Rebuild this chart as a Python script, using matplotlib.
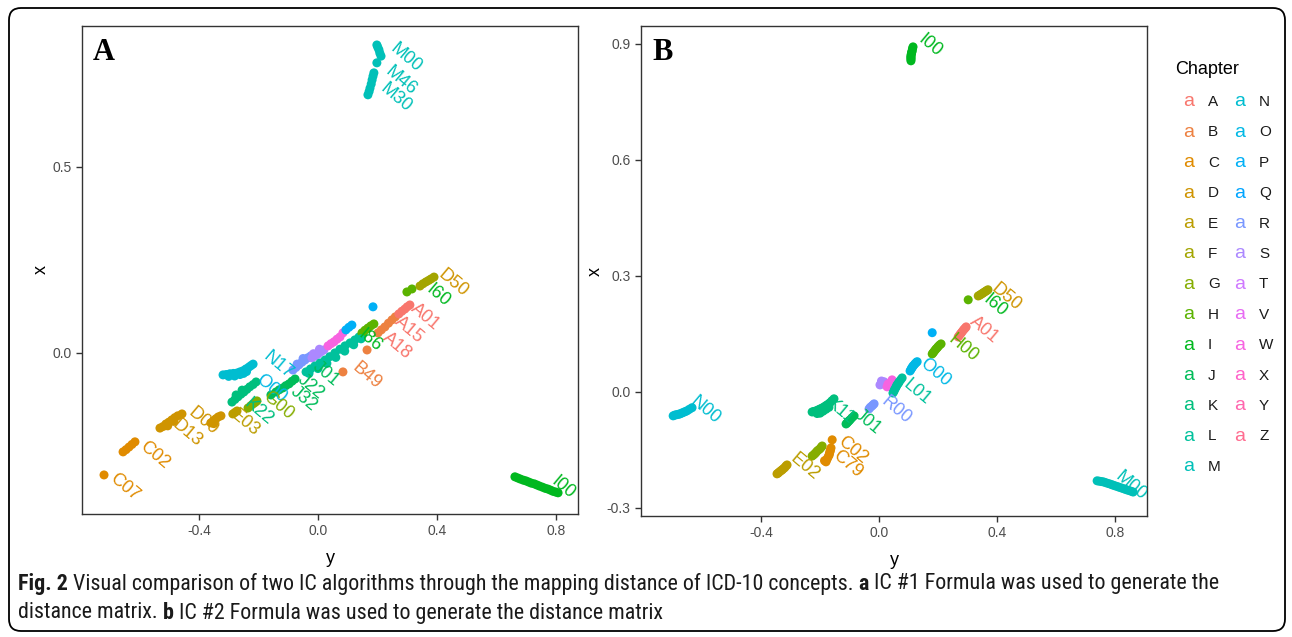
import numpy as np
import matplotlib
matplotlib.use("Agg")
import matplotlib.pyplot as plt
from matplotlib.patches import FancyBboxPatch
from matplotlib import font_manager

plt.rcParams["font.family"] = ["Liberation Sans", "DejaVu Sans"]

# Chapters (ggplot hue palette order)
chapters = list("ABCDEFGHIJKLMNOPQRSTVWXYZ")

# Panel A points: horizontal axis is "y", vertical axis is "x"
a_chap = list("C" * 6 + "D" * 16 + "E" * 3 + "G" * 5 + "K" * 11 + "N" * 13 + "J" * 8
              + "R" * 9 + "S" * 7 + "W" * 6 + "L" * 13 + "P" * 4 + "H" * 7 + "B" * 8
              + "A" * 5 + "F" * 6 + "M" * 13 + "I" * 17 + "N" * 3 + "L" * 7)
a_y = [-0.719, -0.655, -0.645, -0.635, -0.625, -0.615,
       -0.531, -0.521, -0.511, -0.501, -0.491, -0.481, -0.471, -0.457, -0.505, -0.485,
       -0.360, -0.351, -0.343, -0.335, -0.326, -0.350,
       -0.286, -0.279, -0.272,
       -0.235, -0.226, -0.218, -0.211, -0.205,
       -0.289, -0.279, -0.269, -0.259, -0.249, -0.239, -0.229, -0.218, -0.208, -0.275, -0.255,
       -0.319, -0.308, -0.296, -0.284, -0.272, -0.262, -0.252, -0.242, -0.232, -0.225, -0.218,
       -0.262, -0.240,
       -0.158, -0.141, -0.130, -0.118, -0.108, -0.097, -0.087, -0.077,
       -0.084, -0.074, -0.064, -0.054, -0.044, -0.034, -0.024, -0.070, -0.050,
       -0.020, -0.010, 0.000, 0.010, 0.020, -0.015, 0.005,
       0.034, 0.044, 0.054, 0.064, 0.074, 0.084,
       -0.040, -0.025, -0.010, 0.007, 0.024, 0.040, 0.057, 0.074, 0.091, 0.108, 0.124,
       0.138, 0.151,
       0.094, 0.104, 0.114, 0.185,
       0.148, 0.158, 0.168, 0.178, 0.188, 0.299, 0.316,
       0.084, 0.165, 0.202, 0.213, 0.225, 0.237, 0.249, 0.260,
       0.272, 0.282, 0.292, 0.300, 0.309,
       0.343, 0.353, 0.363, 0.372, 0.380, 0.390,
       0.198, 0.201, 0.205, 0.208, 0.212, 0.198, 0.188, 0.185, 0.182, 0.179, 0.175, 0.172,
       0.168,
       0.662, 0.671, 0.680, 0.690, 0.699, 0.708, 0.717, 0.727, 0.736, 0.745, 0.755, 0.764,
       0.773, 0.782, 0.790, 0.799, 0.807,
       -0.300, -0.280, -0.250,
       -0.030, 0.000, 0.030, 0.060, 0.090, 0.120, 0.145]
a_x = [-0.328, -0.266, -0.260, -0.253, -0.246, -0.239,
       -0.202, -0.198, -0.191, -0.186, -0.180, -0.174, -0.169, -0.164, -0.196, -0.184,
       -0.188, -0.182, -0.177, -0.172, -0.169, -0.190,
       -0.164, -0.160, -0.156,
       -0.148, -0.142, -0.137, -0.133, -0.129,
       -0.132, -0.125, -0.118, -0.111, -0.105, -0.098, -0.091, -0.085, -0.078, -0.113, -0.100,
       -0.059, -0.058, -0.056, -0.055, -0.054, -0.051, -0.048, -0.043, -0.038, -0.034, -0.030,
       -0.058, -0.050,
       -0.113, -0.105, -0.099, -0.094, -0.088, -0.083, -0.076, -0.070,
       -0.046, -0.039, -0.032, -0.025, -0.019, -0.013, -0.008, -0.030, -0.015,
       -0.013, -0.008, -0.003, 0.003, 0.008, -0.002, 0.010,
       0.019, 0.025, 0.030, 0.037, 0.043, 0.054,
       -0.051, -0.043, -0.035, -0.027, -0.019, -0.010, 0.000, 0.010, 0.019, 0.027, 0.035,
       0.043, 0.051,
       0.062, 0.069, 0.075, 0.124,
       0.054, 0.061, 0.067, 0.073, 0.078, 0.164, 0.172,
       -0.051, 0.008, 0.054, 0.062, 0.070, 0.080, 0.089, 0.097,
       0.105, 0.112, 0.118, 0.124, 0.129,
       0.180, 0.186, 0.191, 0.195, 0.199, 0.204,
       0.828, 0.822, 0.815, 0.806, 0.798, 0.780, 0.753, 0.744, 0.734, 0.723, 0.712, 0.703,
       0.694,
       -0.333, -0.336, -0.339, -0.342, -0.344, -0.347, -0.350, -0.352, -0.355, -0.358,
       -0.361, -0.364, -0.366, -0.369, -0.372, -0.374, -0.376,
       -0.063, -0.062, -0.055,
       -0.055, -0.042, -0.028, -0.012, 0.005, 0.022, 0.038]

# Panel A labels
a_lab = ["M00", "M46", "M30", "D50", "I60", "A01", "A15", "A18", "I86", "B49",
         "J01", "J22", "J32", "N17", "O00", "G00", "K22", "E03", "D00", "D13",
         "C02", "C07", "I00"]
a_lab_y = [0.249, 0.232, 0.215, 0.410, 0.370, 0.319, 0.266, 0.225, 0.141, 0.124,
           -0.010, -0.061, -0.084, -0.178, -0.202, -0.178, -0.239, -0.286, -0.430, -0.484,
           -0.592, -0.692, 0.790]
a_lab_x = [0.823, 0.761, 0.715, 0.215, 0.177, 0.124, 0.089, 0.048, 0.056, -0.035,
           -0.032, -0.065, -0.099, -0.005, -0.067, -0.113, -0.132, -0.161, -0.156, -0.188,
           -0.247, -0.331, -0.341]

# Panel B points
b_chap = list("N" * 11 + "E" * 9 + "G" * 9 + "C" * 11 + "K" * 20 + "J" * 7 + "R" * 5
              + "S" * 6 + "W" * 4 + "L" * 11 + "O" * 9 + "P" * 1 + "H" * 10 + "A" * 9
              + "F" * 9 + "I" * 11 + "M" * 17)
b_y = [-0.698, -0.692, -0.686, -0.680, -0.675, -0.669, -0.663, -0.657, -0.651, -0.643, -0.634,
       -0.346, -0.342, -0.338, -0.333, -0.329, -0.325, -0.320, -0.316, -0.312,
       -0.227, -0.222, -0.218, -0.214, -0.210, -0.205, -0.200, -0.196, -0.193,
       -0.180, -0.178, -0.175, -0.172, -0.169, -0.168, -0.166, -0.165, -0.163, -0.159, -0.185,
       -0.227, -0.222, -0.217, -0.212, -0.207, -0.202, -0.196, -0.191, -0.186, -0.181,
       -0.176, -0.171, -0.166, -0.160, -0.153, -0.200, -0.190, -0.180, -0.170, -0.210,
       -0.112, -0.108, -0.105, -0.102, -0.098, -0.092, -0.085,
       -0.034, -0.030, -0.025, -0.021, -0.017,
       0.003, 0.007, 0.010, 0.014, 0.017, 0.008,
       0.027, 0.035, 0.044, 0.030,
       0.047, 0.050, 0.052, 0.055, 0.058, 0.060, 0.063, 0.066, 0.068, 0.073, 0.078,
       0.105, 0.108, 0.110, 0.113, 0.115, 0.119, 0.122, 0.126, 0.129,
       0.180,
       0.180, 0.183, 0.186, 0.190, 0.193, 0.197, 0.200, 0.205, 0.210, 0.302,
       0.268, 0.272, 0.275, 0.278, 0.281, 0.285, 0.288, 0.292, 0.295,
       0.336, 0.341, 0.345, 0.349, 0.353, 0.357, 0.361, 0.365, 0.369,
       0.108, 0.108, 0.108, 0.108, 0.108, 0.109, 0.110, 0.111, 0.112, 0.113, 0.115,
       0.739, 0.746, 0.754, 0.761, 0.769, 0.777, 0.785, 0.792, 0.800, 0.808, 0.815, 0.823,
       0.831, 0.838, 0.846, 0.854, 0.861]
b_x = [-0.062, -0.060, -0.059, -0.058, -0.057, -0.055, -0.053, -0.051, -0.049, -0.045, -0.041,
       -0.212, -0.210, -0.207, -0.204, -0.202, -0.199, -0.196, -0.192, -0.189,
       -0.166, -0.163, -0.160, -0.157, -0.153, -0.150, -0.147, -0.143, -0.140,
       -0.181, -0.176, -0.172, -0.167, -0.163, -0.158, -0.154, -0.150, -0.145, -0.124, -0.178,
       -0.052, -0.051, -0.050, -0.049, -0.047, -0.045, -0.043, -0.041, -0.039, -0.036,
       -0.034, -0.031, -0.028, -0.023, -0.018, -0.055, -0.050, -0.045, -0.040, -0.056,
       -0.083, -0.080, -0.077, -0.075, -0.072, -0.067, -0.062,
       -0.044, -0.040, -0.037, -0.034, -0.031,
       0.018, 0.020, 0.022, 0.024, 0.026, 0.028,
       0.013, 0.022, 0.031, 0.020,
       -0.003, 0.001, 0.005, 0.009, 0.013, 0.017, 0.020, 0.023, 0.026, 0.031, 0.036,
       0.054, 0.058, 0.061, 0.064, 0.067, 0.070, 0.073, 0.076, 0.078,
       0.153,
       0.098, 0.101, 0.104, 0.108, 0.111, 0.114, 0.117, 0.121, 0.124, 0.238,
       0.142, 0.146, 0.149, 0.152, 0.155, 0.159, 0.162, 0.165, 0.168,
       0.248, 0.250, 0.252, 0.254, 0.256, 0.258, 0.260, 0.262, 0.264,
       0.856, 0.860, 0.863, 0.866, 0.869, 0.873, 0.876, 0.879, 0.882, 0.887, 0.892,
       -0.230, -0.231, -0.232, -0.233, -0.235, -0.237, -0.239, -0.241, -0.243, -0.245,
       -0.247, -0.249, -0.251, -0.253, -0.255, -0.257, -0.259]

# Panel B labels
b_lab = ["N00", "E02", "C02", "C79", "K11", "J01", "R00", "L01", "O00", "H00",
         "A01", "I60", "D50", "I00", "M00"]
b_lab_y = [-0.634, -0.295, -0.132, -0.150, -0.173, -0.075, 0.014, 0.088, 0.146, 0.241,
           0.315, 0.359, 0.386, 0.139, 0.807]
b_lab_x = [-0.021, -0.168, -0.124, -0.160, -0.026, -0.054, -0.021, 0.023, 0.078, 0.140,
           0.186, 0.243, 0.272, 0.915, -0.215]

caption1 = [("Fig. 2", True),
            (" Visual comparison of two IC algorithms through the mapping distance of ICD-10 concepts. ", False),
            ("a", True),
            (" IC #1 Formula was used to generate the", False)]
caption2 = [("distance matrix. ", False), ("b", True),
            (" IC #2 Formula was used to generate the distance matrix", False)]


def hcl_hex(h, c=100.0, l=65.0):
    # polar LUV -> sRGB, same as R's hcl()
    hr = np.deg2rad(h)
    u, v = c * np.cos(hr), c * np.sin(hr)
    xn, yn, zn = 95.047, 100.0, 108.883
    Y = yn * ((l + 16) / 116) ** 3
    un = 4 * xn / (xn + 15 * yn + 3 * zn)
    vn = 9 * yn / (xn + 15 * yn + 3 * zn)
    up = u / (13 * l) + un
    vp = v / (13 * l) + vn
    X = 9.0 * Y * up / (4 * vp)
    Z = -X / 3 - 5 * Y + 3 * Y / vp
    m = np.array([[3.240479, -1.537150, -0.498535],
                  [-0.969256, 1.875992, 0.041556],
                  [0.055648, -0.204043, 1.057311]])
    rgb = m @ (np.array([X, Y, Z]) / 100)
    rgb = np.where(rgb > 0.0031308, 1.055 * np.abs(rgb) ** (1 / 2.4) - 0.055, 12.92 * rgb)
    return tuple(np.clip(rgb, 0, 1))


hues = np.linspace(15, 375, len(chapters) + 1)[:-1]
pal = {ch: hcl_hex(h % 360) for ch, h in zip(chapters, hues)}

# a narrow face for the caption if there is one
installed = {f.name for f in font_manager.fontManager.ttflist}
cap_font = "DejaVu Sans"
for name in ["Liberation Sans Narrow", "Roboto Condensed", "Open Sans Condensed", "Noto Sans"]:
    if name in installed:
        cap_font = name
        break

fig = plt.figure(figsize=(12.92, 6.37), dpi=100)

# background / frame in pixel coordinates
bg = fig.add_axes([0, 0, 1, 1], zorder=-1)
bg.set_xlim(0, 1292)
bg.set_ylim(637, 0)
bg.axis("off")
bg.add_patch(FancyBboxPatch((9, 8), 1276, 623, boxstyle="round,pad=0,rounding_size=12",
                            fc="white", ec="black", lw=1.3))


def panel(rect, chap, ys, xs, labs, lys, lxs, xlim, ylim, yticks, letter):
    ax = fig.add_axes(rect)
    ax.scatter(ys, xs, c=[pal[c] for c in chap], s=42, linewidths=0, zorder=2)
    for t, ly, lx in zip(labs, lys, lxs):
        ax.text(ly, lx, t, color=pal[t[0]], fontsize=13, rotation=-40,
                rotation_mode="anchor", ha="left", va="center", clip_on=True, zorder=3)
    ax.set_xlim(*xlim)
    ax.set_ylim(*ylim)
    ax.set_xticks([-0.4, 0.0, 0.4, 0.8])
    ax.set_xticklabels(["-0.4", "0.0", "0.4", "0.8"])
    ax.set_yticks(yticks)
    ax.set_yticklabels([f"{v:.1f}" for v in yticks])
    ax.tick_params(colors="#333333", labelcolor="#4D4D4D", labelsize=10, length=4, width=1)
    for s in ax.spines.values():
        s.set_color("#333333")
        s.set_linewidth(1)
    ax.set_xlabel("y", fontsize=13, labelpad=8)
    ax.set_ylabel("x", fontsize=13, labelpad=2)
    ax.text(0.022, 0.975, letter, transform=ax.transAxes, fontsize=22, fontweight="bold",
            family="Liberation Serif", va="top", ha="left")
    return ax


panel([82 / 1292, 123 / 637, 496 / 1292, 488 / 637], a_chap, a_y, a_x,
      a_lab, a_lab_y, a_lab_x, (-0.793, 0.874), (-0.433, 0.879), [0.0, 0.5], "A")
panel([641 / 1292, 121 / 637, 506 / 1292, 490 / 637], b_chap, b_y, b_x,
      b_lab, b_lab_y, b_lab_x, (-0.807, 0.908), (-0.321, 0.946),
      [-0.3, 0.0, 0.3, 0.6, 0.9], "B")

# legend
bg.text(1175, 70, "Chapter", fontsize=13, va="center", ha="left")
for i, ch in enumerate(chapters):
    col, row = divmod(i, 13)
    y = 102 + 30.4 * row
    bg.text(1189 + 51 * col, y, "a", color=pal[ch], fontsize=14, ha="center", va="center")
    bg.text(1208 + 51 * col, y, ch, color="#1A1A1A", fontsize=11, ha="left", va="center")

# caption with bold pieces, sized so the first line spans the reference width
fig.canvas.draw()
renderer = fig.canvas.get_renderer()


def rich_line(x, y, parts, size):
    x0 = x
    for txt, bold in parts:
        t = bg.text(x, y, txt, fontsize=size, family=cap_font,
                    fontweight="bold" if bold else "normal", va="center", ha="left",
                    color="#1A1A1A")
        x += t.get_window_extent(renderer).width
    return x - x0


probe = bg.texts[:]
w = rich_line(18, -100, caption1, 14)
for t in bg.texts[len(probe):]:
    t.remove()
cap_size = 14 * 1212 / w

rich_line(18, 584, caption1, cap_size)
rich_line(18, 613, caption2, cap_size)

fig.savefig("out.png", dpi=100)
